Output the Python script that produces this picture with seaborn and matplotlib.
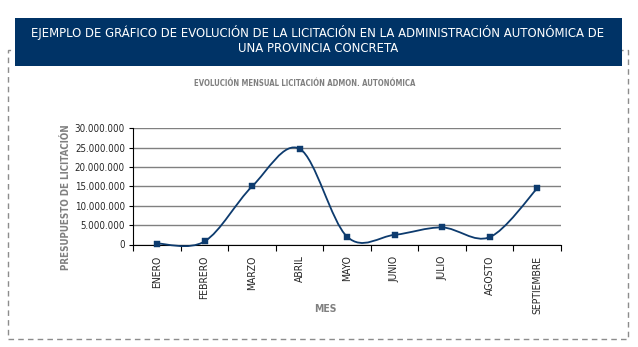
import numpy as np
import pandas as pd
import seaborn as sns
import matplotlib
matplotlib.use("Agg")
import matplotlib.pyplot as plt
from matplotlib.path import Path
from matplotlib.patches import PathPatch, Rectangle
from matplotlib import font_manager
from matplotlib.font_manager import FontProperties
from matplotlib.ticker import FixedLocator

# ---- data ----
meses = ["ENERO", "FEBRERO", "MARZO", "ABRIL", "MAYO", "JUNIO", "JULIO", "AGOSTO", "SEPTIEMBRE"]
presupuesto = [250000, 800000, 15000000, 24700000, 2000000, 2500000, 4400000, 1900000, 14500000]
y_ticks = [0, 5000000, 10000000, 15000000, 20000000, 25000000, 30000000]
y_tick_labels = ["0", "5.000.000", "10.000.000", "15.000.000", "20.000.000", "25.000.000", "30.000.000"]
titulo_banner = ["EJEMPLO DE GRÁFICO DE EVOLUCIÓN DE LA LICITACIÓN EN LA ADMINISTRACIÓN AUTONÓMICA DE",
                 "UNA PROVINCIA CONCRETA"]
titulo_grafico = "EVOLUCIÓN MENSUAL LICITACIÓN ADMON. AUTONÓMICA"
eje_x = "MES"
eje_y = "PRESUPUESTO DE LICITACIÓN"

sns.set_theme(style="white")
plt.rcParams["font.family"] = ["DejaVu Sans"]
cond_file = font_manager.findfont(FontProperties(family="DejaVu Sans", stretch="condensed"))
has_cond = "Condensed" in cond_file
plt.rcParams["font.stretch"] = "condensed"
k = 1.0 if has_cond else 0.86  # shrink if no condensed face exists

W, H = 638, 347
fig = plt.figure(figsize=(W / 100, H / 100), dpi=100)
fig.patch.set_facecolor("white")

def fx(px):
    return px / W

def fy(py):
    return (H - py) / H

# dashed border
fig.add_artist(Rectangle((fx(8), fy(339)), fx(628) - fx(8), fy(50) - fy(339),
                         transform=fig.transFigure, fill=False, edgecolor="#8c8c8c",
                         linestyle=(0, (4, 3)), linewidth=1.0, zorder=1))
# banner
fig.add_artist(Rectangle((fx(15), fy(66)), fx(622) - fx(15), fy(18) - fy(66),
                         transform=fig.transFigure, facecolor="#003366", edgecolor="none", zorder=2))
fig.text(fx(318), fy(33), titulo_banner[0], color="white", ha="center", va="center", fontsize=9.4 * k, zorder=3)
fig.text(fx(318), fy(48), titulo_banner[1], color="white", ha="center", va="center", fontsize=9.4 * k, zorder=3)

# axes
left, right, top, bottom = 133.3, 561, 128.3, 244.5
ax = fig.add_axes([fx(left), fy(bottom), fx(right) - fx(left), fy(top) - fy(bottom)])
ax.set_facecolor("white")

df = pd.DataFrame({"mes": meses, "x": np.arange(len(meses)), "valor": presupuesto})
line_color = "#0d3b6e"

# smooth curve (Excel-style Catmull-Rom Bezier) through the data points
xs = df["x"].to_numpy(dtype=float)
ys = df["valor"].to_numpy(dtype=float)
n = len(xs)
verts = [(xs[0], ys[0])]
codes = [Path.MOVETO]
for i in range(n - 1):
    p0 = (xs[max(i - 1, 0)], ys[max(i - 1, 0)])
    p1 = (xs[i], ys[i])
    p2 = (xs[i + 1], ys[i + 1])
    p3 = (xs[min(i + 2, n - 1)], ys[min(i + 2, n - 1)])
    c1 = (p1[0] + (p2[0] - p0[0]) / 6, p1[1] + (p2[1] - p0[1]) / 6)
    c2 = (p2[0] - (p3[0] - p1[0]) / 6, p2[1] - (p3[1] - p1[1]) / 6)
    verts += [c1, c2, p2]
    codes += [Path.CURVE4] * 3
ax.add_patch(PathPatch(Path(verts, codes), facecolor="none", edgecolor=line_color,
                       linewidth=1.3, zorder=3, clip_on=False))

sns.scatterplot(data=df, x="x", y="valor", marker="s", s=16, color=line_color,
                edgecolor=line_color, linewidth=0.3, ax=ax, zorder=4, clip_on=False, legend=False)

ax.set_xlim(-0.5, len(meses) - 0.5)
ax.set_ylim(0, 30000000)
ax.set_yticks(y_ticks)
ax.set_yticklabels(y_tick_labels, fontsize=7.0 * k)
ax.set_xticks(df["x"])
ax.set_xticklabels(meses, rotation=90, fontsize=7.5 * k)
ax.xaxis.set_minor_locator(FixedLocator(np.arange(-0.5, len(meses), 1.0)))
ax.tick_params(axis="x", which="major", length=0, pad=8)
ax.tick_params(axis="x", which="minor", length=4, width=0.8, color="black", direction="out", bottom=True)
ax.tick_params(axis="y", which="major", length=3, width=0.8, color="black", direction="out", left=True, pad=3)
ax.grid(axis="y", color="#808080", linewidth=1.0)
ax.grid(axis="x", visible=False)
for s in ["top", "right"]:
    ax.spines[s].set_visible(False)
for s in ["left", "bottom"]:
    ax.spines[s].set_visible(True)
    ax.spines[s].set_color("black")
    ax.spines[s].set_linewidth(0.8)
ax.set_xlabel("")
ax.set_ylabel("")
ax.set_axisbelow(True)

fig.text(fx(305), fy(83), titulo_grafico, color="#808080", ha="center", va="center",
         fontsize=5.6 * k, fontweight="bold")
fig.text(fx(325), fy(309), eje_x, color="#808080", ha="center", va="center",
         fontsize=7.5 * k, fontweight="bold")
fig.text(fx(66), fy(197), eje_y, color="#808080", ha="center", va="center",
         fontsize=7.0 * k, fontweight="bold", rotation=90)

fig.savefig("out.png", dpi=100)
